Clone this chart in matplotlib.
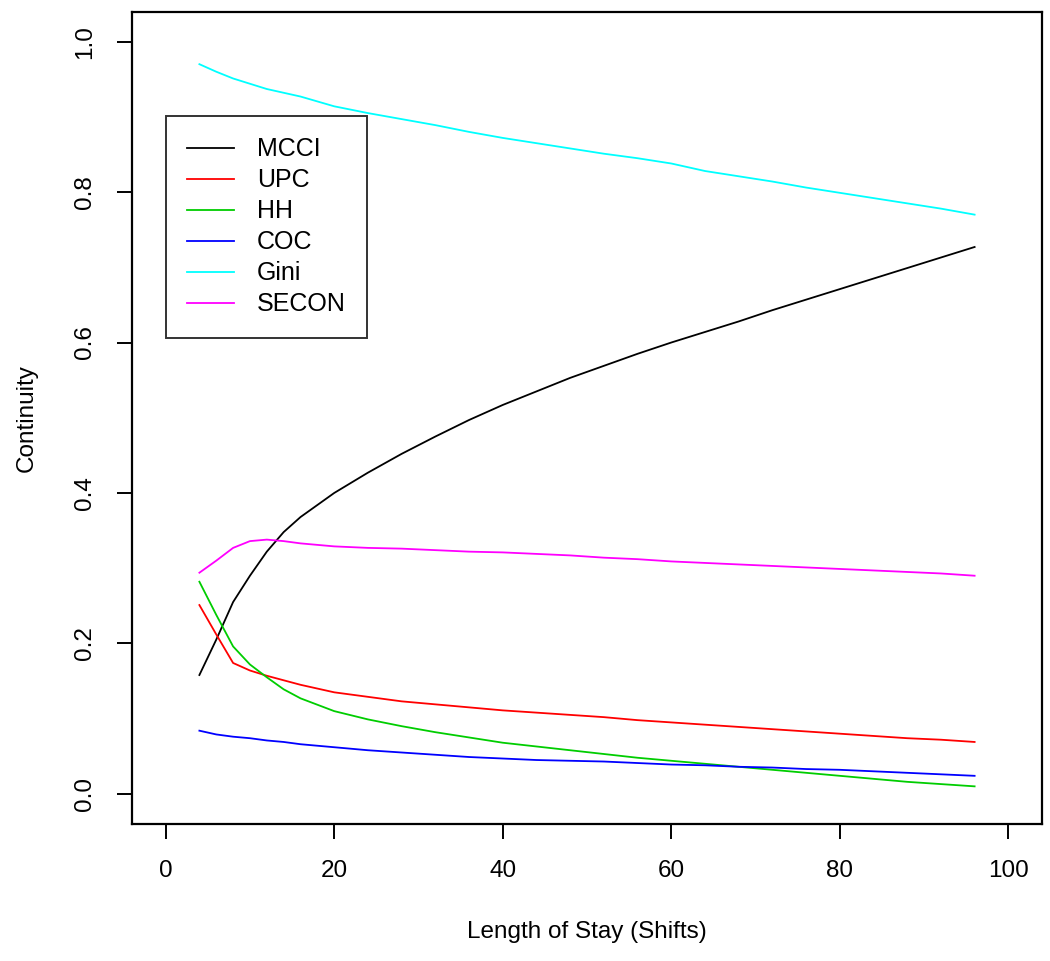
import matplotlib
matplotlib.use("Agg")
import matplotlib.pyplot as plt

plt.rcParams['font.family'] = ['Liberation Sans', 'DejaVu Sans']

# length of stay (shifts)
los = [4, 6, 8, 10, 12, 14, 16, 20, 24, 28, 32, 36, 40, 44, 48, 52, 56, 60,
       64, 68, 72, 76, 80, 84, 88, 92, 96]

mcci = [0.158, 0.205, 0.255, 0.290, 0.322, 0.348, 0.368, 0.400, 0.427, 0.452,
        0.475, 0.497, 0.517, 0.535, 0.553, 0.569, 0.585, 0.600, 0.614, 0.628,
        0.643, 0.657, 0.671, 0.685, 0.699, 0.713, 0.727]
upc = [0.251, 0.212, 0.174, 0.164, 0.157, 0.151, 0.145, 0.135, 0.129, 0.123,
       0.119, 0.115, 0.111, 0.108, 0.105, 0.102, 0.098, 0.095, 0.092, 0.089,
       0.086, 0.083, 0.080, 0.077, 0.074, 0.072, 0.069]
hh = [0.282, 0.238, 0.196, 0.172, 0.155, 0.139, 0.127, 0.110, 0.099, 0.090,
      0.082, 0.075, 0.068, 0.063, 0.058, 0.053, 0.048, 0.044, 0.040, 0.036,
      0.032, 0.028, 0.024, 0.020, 0.016, 0.013, 0.010]
coc = [0.084, 0.079, 0.076, 0.074, 0.071, 0.069, 0.066, 0.062, 0.058, 0.055,
       0.052, 0.049, 0.047, 0.045, 0.044, 0.043, 0.041, 0.039, 0.038, 0.036,
       0.035, 0.033, 0.032, 0.030, 0.028, 0.026, 0.024]
gini = [0.970, 0.960, 0.951, 0.944, 0.937, 0.932, 0.927, 0.914, 0.905, 0.897,
        0.889, 0.880, 0.872, 0.865, 0.858, 0.851, 0.845, 0.838, 0.828, 0.821,
        0.814, 0.806, 0.799, 0.792, 0.785, 0.778, 0.770]
secon = [0.294, 0.310, 0.327, 0.336, 0.338, 0.336, 0.333, 0.329, 0.327, 0.326,
         0.324, 0.322, 0.321, 0.319, 0.317, 0.314, 0.312, 0.309, 0.307, 0.305,
         0.303, 0.301, 0.299, 0.297, 0.295, 0.293, 0.290]

names = ['MCCI', 'UPC', 'HH', 'COC', 'Gini', 'SECON']
series = [mcci, upc, hh, coc, gini, secon]
colors = ['#000000', '#FF0000', '#00CD00', '#0000FF', '#00FFFF', '#FF00FF']

fig = plt.figure(figsize=(10.5, 9.61), dpi=100)
ax = fig.add_axes([0.1257, 0.1426, 0.8667, 0.8454])

for name, vals, c in zip(names, series, colors):
    ax.plot(los, vals, color=c, lw=1.3, label=name)

ax.set_xlim(-4, 104)
ax.set_ylim(-0.04, 1.04)
ax.set_xticks([0, 20, 40, 60, 80, 100])
ax.set_yticks([0.0, 0.2, 0.4, 0.6, 0.8, 1.0])
ax.set_yticklabels(['0.0', '0.2', '0.4', '0.6', '0.8', '1.0'], rotation=90, va='center')
ax.tick_params(direction='out', length=11, width=1.4, labelsize=17.5, pad=15)
for s in ax.spines.values():
    s.set_linewidth(1.6)

ax.set_xlabel('Length of Stay (Shifts)', fontsize=17.5, labelpad=28)
ax.set_ylabel('Continuity', fontsize=17.5, labelpad=26)

leg = ax.legend(loc='upper left', bbox_to_anchor=(0.0, 0.901), bbox_transform=ax.transData,
                fontsize=18, frameon=True, fancybox=False, handlelength=1.9,
                handletextpad=0.9, borderpad=0.85, labelspacing=0.28, borderaxespad=0)
leg.get_frame().set_edgecolor('black')
leg.get_frame().set_linewidth(1.4)

fig.savefig('out.png', dpi=100)
